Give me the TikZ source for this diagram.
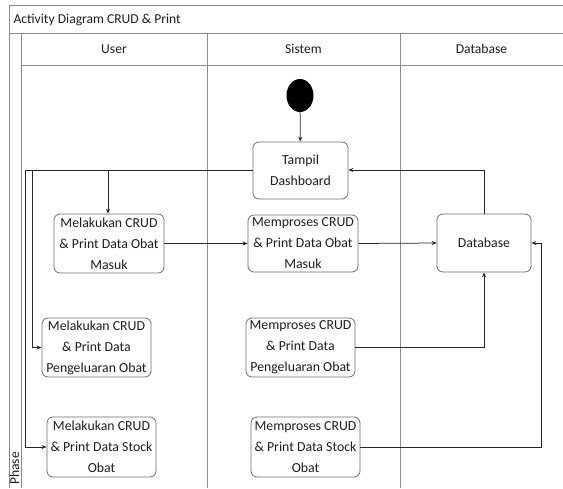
\documentclass[tikz,border=0pt]{standalone}
\usepackage{fontspec}
\setmainfont{Carlito}
\usetikzlibrary{arrows.meta,shapes.geometric}
\definecolor{lanegray}{HTML}{8C8C8C}
\definecolor{boxgray}{HTML}{6E6E6E}
\definecolor{txt}{HTML}{1E1E1E}
\begin{document}
\begin{tikzpicture}[x=1pt,y=-1pt,
  lane/.style={draw=lanegray,line width=0.9pt},
  actbox/.style={draw=boxgray,line width=0.8pt,rounded corners=6pt,align=center,
    font=\fontsize{13.8}{21}\selectfont,text=txt,inner sep=0pt},
  conn/.style={draw=black!85,line width=0.75pt},
  arr/.style={conn,-{Stealth[length=5pt,width=4pt]}},
  hdr/.style={font=\fontsize{13.6}{16}\selectfont,text=txt}]
\useasboundingbox (0,0) rectangle (563,488);
\fill[white] (0,0) rectangle (563,488);
% frame
\draw[lane] (9,488) -- (9,5) -- (563,5);
\draw[lane] (9,33) -- (563,33);
\draw[lane] (21,33) -- (21,488);
\draw[lane] (207,33) -- (207,488);
\draw[lane] (400,33) -- (400,488);
\draw[lane] (21,65) -- (563,65);
\node[hdr,anchor=west] (title) at (10,20) {Activity Diagram CRUD \& Print};
\node[hdr] (huser) at (114,49) {User};
\node[hdr] (hsis) at (303.5,49) {Sistem};
\node[hdr] (hdb) at (481.5,49) {Database};
\node[hdr,rotate=90,anchor=east,inner sep=1pt] (phase) at (14.5,451) {Phase};
% nodes
\node[ellipse,fill=black,minimum width=27pt,minimum height=33pt,inner sep=0pt] (start) at (300,95.5) {};
\node[actbox,minimum width=95pt,minimum height=57pt] (tampil) at (300.5,170.5) {Tampil\\Dashboard};
\node[actbox,minimum width=110pt,minimum height=59pt] (um) at (109,243.5) {Melakukan CRUD\\\& Print Data Obat\\Masuk};
\node[actbox,minimum width=110pt,minimum height=57pt] (sm) at (303,243.5) {Memproses CRUD\\\& Print Data Obat\\Masuk};
\node[actbox,minimum width=94pt,minimum height=58pt] (db) at (484,243) {Database};
\node[actbox,minimum width=109pt,minimum height=59pt] (up) at (96.5,347.5) {Melakukan CRUD\\\& Print Data\\Pengeluaran Obat};
\node[actbox,minimum width=109pt,minimum height=59pt] (sp) at (300.5,347.5) {Memproses CRUD\\\& Print Data\\Pengeluaran Obat};
\node[actbox,minimum width=109pt,minimum height=60pt] (us) at (101.5,447) {Melakukan CRUD\\\& Print Data Stock\\Obat};
\node[actbox,minimum width=109pt,minimum height=60pt] (ss) at (305.5,447) {Memproses CRUD\\\& Print Data Stock\\Obat};
\coordinate (j1) at (25,170);
\coordinate (j2) at (32,170);
\coordinate (j3) at (108,170);
% connectors
\draw[arr] (start) -- (tampil);
\draw[conn] (tampil.west |- 0,170) -- (j1);
\draw[arr] (j3) -- (um.north -| j3);
\draw[arr] (j2) |- (up.west);
\draw[arr] (j1) |- (us.west);
\draw[arr] (um.east) -- (sm.west);
\draw[arr] (sm.east) -- (db.west);
\draw[arr] (db.north) |- (tampil.east |- 0,170);
\draw[arr] (sp.east) -| (db.south);
\draw[arr] (ss.east) -| (541,243) -- (db.east);
\end{tikzpicture}
\end{document}
